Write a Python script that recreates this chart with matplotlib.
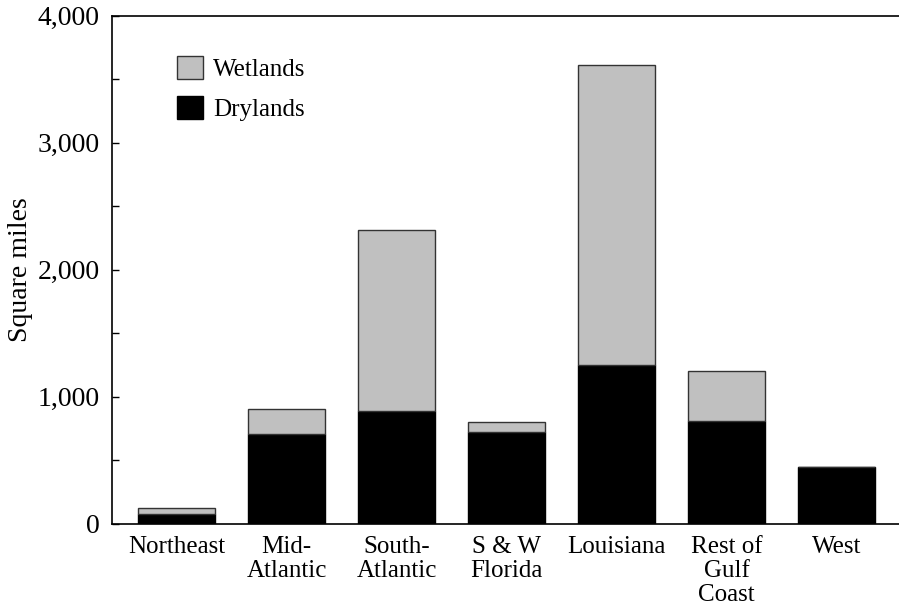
import matplotlib
matplotlib.use("Agg")
import matplotlib.pyplot as plt
from matplotlib.patches import Patch
from matplotlib.ticker import MultipleLocator, FuncFormatter

regions = ["Northeast", "Mid-\nAtlantic", "South-\nAtlantic", "S & W\nFlorida",
           "Louisiana", "Rest of\nGulf\nCoast", "West"]
drylands = [75, 707, 889, 721, 1250, 810, 445]
wetlands = [50, 195, 1425, 80, 2360, 390, 0]

plt.rcParams["font.family"] = ["Liberation Serif", "DejaVu Serif"]
plt.rcParams["font.size"] = 18

fig = plt.figure(figsize=(8.99, 6.12), dpi=100)
ax = fig.add_axes([0.1246, 0.1446, 0.8754, 0.8297])

x = range(len(regions))
ax.bar(x, drylands, width=0.7, color="black", edgecolor="black", linewidth=1)
ax.bar(x, wetlands, width=0.7, bottom=drylands, color="#c0c0c0",
       edgecolor="#333333", linewidth=1)

ax.set_xlim(-0.586, 6.568)
ax.set_ylim(0, 4000)
ax.set_xticks(list(x))
ax.set_xticklabels(regions, linespacing=1.12)
ax.tick_params(axis="x", length=0, pad=9)
ax.yaxis.set_major_locator(MultipleLocator(1000))
ax.yaxis.set_minor_locator(MultipleLocator(500))
ax.yaxis.set_major_formatter(FuncFormatter(lambda v, p: f"{int(v):,}"))
ax.tick_params(axis="y", which="both", direction="in", length=5, width=1,
               pad=9, labelsize=20)
ax.set_ylabel("Square miles", fontsize=20, labelpad=3)

ax.spines["right"].set_visible(False)
for s in ["left", "top", "bottom"]:
    ax.spines[s].set_linewidth(1.2)

handles = [Patch(facecolor="#c0c0c0", edgecolor="#333333", label="Wetlands"),
           Patch(facecolor="black", edgecolor="black", label="Drylands")]
ax.legend(handles=handles, loc="upper left", bbox_to_anchor=(0.0826, 0.921),
          frameon=False, borderpad=0, borderaxespad=0, handlelength=1.05,
          handleheight=1.05, handletextpad=0.4, labelspacing=0.6)

fig.savefig("out.png", dpi=100)
